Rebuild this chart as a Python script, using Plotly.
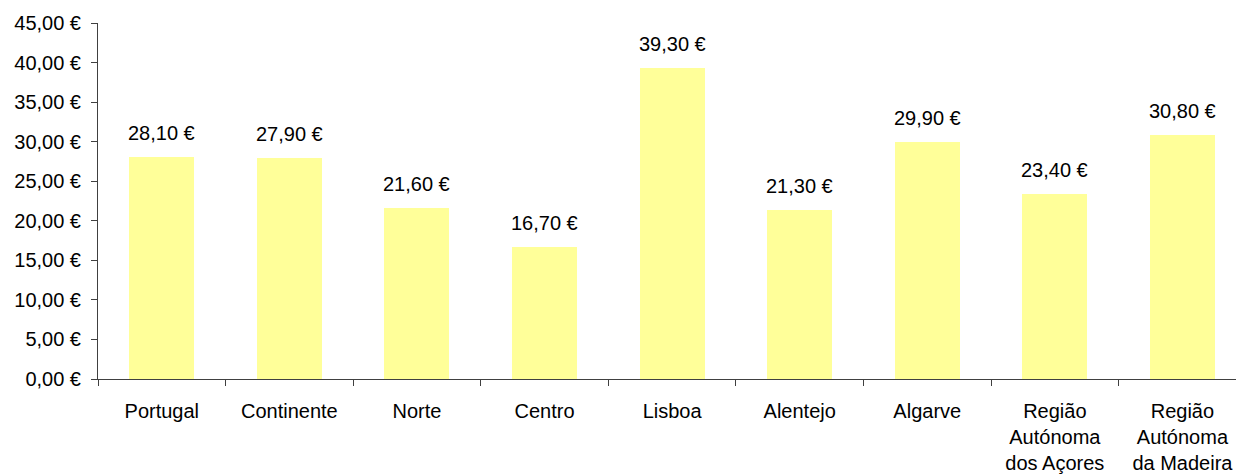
import plotly.graph_objects as go

regions = ["Portugal", "Continente", "Norte", "Centro", "Lisboa", "Alentejo",
           "Algarve", "Região<br>Autónoma<br>dos Açores", "Região<br>Autónoma<br>da Madeira"]
values = [28.10, 27.90, 21.60, 16.70, 39.30, 21.30, 29.90, 23.40, 30.80]
y_ticks = [0, 5, 10, 15, 20, 25, 30, 35, 40, 45]


def euro(v):
    return f"{v:.2f}".replace(".", ",") + " €"


FONT = dict(family="Liberation Sans, Arial, sans-serif", size=20, color="#000000")
AXIS_COLOR = "#404040"

fig = go.Figure(go.Bar(
    x=list(range(len(regions))),
    y=values,
    width=0.51,
    marker=dict(color="#FFFF99", line=dict(width=0)),
    hoverinfo="skip",
))

for i, v in enumerate(values):
    fig.add_annotation(x=i, y=v, text=euro(v), showarrow=False,
                       yanchor="middle", yshift=24, font=FONT)

fig.update_layout(
    width=1236, height=474,
    margin=dict(l=98, r=0, t=23, b=95),
    paper_bgcolor="white", plot_bgcolor="white",
    font=FONT,
    showlegend=False,
    bargap=0,
)

fig.update_xaxes(
    range=[-0.5, 8.42],
    tickmode="array",
    tickvals=list(range(len(regions))),
    ticktext=regions,
    ticks="",
    ticklabelstandoff=14,
    showline=True, linecolor=AXIS_COLOR, linewidth=1,
    showgrid=False, zeroline=False,
)
# boundary tick marks between categories
fig.update_xaxes(minor=dict(tickmode="array", tickvals=[i - 0.5 for i in range(len(regions) + 1)],
                            ticks="outside", ticklen=6, tickcolor=AXIS_COLOR, tickwidth=1, showgrid=False))

fig.update_yaxes(
    range=[0, 45],
    tickmode="array",
    tickvals=y_ticks,
    ticktext=[euro(t) for t in y_ticks],
    ticks="outside", ticklen=6, tickcolor=AXIS_COLOR, tickwidth=1,
    ticklabelstandoff=6,
    showline=True, linecolor=AXIS_COLOR, linewidth=1,
    showgrid=False, zeroline=False,
)

fig.write_html("out.html")
